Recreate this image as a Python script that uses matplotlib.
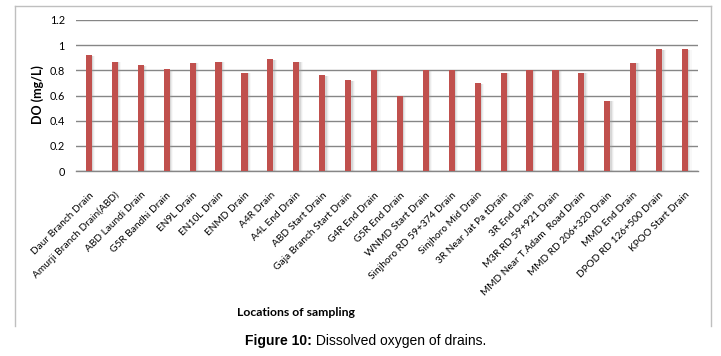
import matplotlib
matplotlib.use("Agg")
import matplotlib.pyplot as plt
import numpy as np
from matplotlib.lines import Line2D

categories = [
    "Daur Branch Drain", "Amurji Branch Drain(ABD)", "ABD Laundi Drain", "G5R Bandhi Drain",
    "EN9L Drain", "EN10L Drain", "ENMD Drain", "A4R Drain", "A4L End Drain", "ABD Start Drain",
    "Gaja Branch Start Drain", "G4R End Drain", "G5R End Drain", "WNMD Start Drain",
    "Sinjhoro RD 59+374 Drain", "Sinjhoro Mid Drain", "3R Near Jat Pa tDrain", "3R End Drain",
    "M3R RD 59+921 Drain", "MMD Near T.Adam  Road Drain", "MMD RD 206+320 Drain", "MMD End Drain",
    "DPOD RD 126+500 Drain", "KPOO Start Drain",
]
do_values = [0.92, 0.87, 0.84, 0.81, 0.86, 0.87, 0.78, 0.89, 0.87, 0.76, 0.72, 0.80,
             0.60, 0.80, 0.80, 0.70, 0.78, 0.80, 0.80, 0.78, 0.56, 0.86, 0.97, 0.97]
y_ticks = [0, 0.2, 0.4, 0.6, 0.8, 1.0, 1.2]
y_tick_labels = ["0", "0.2", "0.4", "0.6", "0.8", "1", "1.2"]

W, H = 721, 356
fig = plt.figure(figsize=(W / 100, H / 100), dpi=100)
fig.patch.set_facecolor("white")

font = "Lato"
ax = fig.add_axes([76 / W, 1 - 171 / H, (698 - 76) / W, (171 - 20) / H])
x = np.arange(len(categories))

# soft shadow to the right of bars
for k, a in enumerate([0.25, 0.14, 0.07]):
    ax.bar(x + 0.05 + 0.04 * k, np.array(do_values) - 0.005, width=0.24, color="#a0a0a0",
           alpha=a, zorder=2, linewidth=0)
ax.bar(x, do_values, width=0.24, color="#C0504D", zorder=3, linewidth=0)

ax.set_xlim(-0.5, len(categories) - 0.5)
ax.set_ylim(0, 1.2)
ax.set_yticks(y_ticks)
ax.set_yticklabels(y_tick_labels, fontsize=7.8, family=font)
ax.yaxis.grid(True, color="#868686", linewidth=1.0, zorder=0)
ax.set_axisbelow(True)
for s in ["top", "right", "left"]:
    ax.spines[s].set_visible(False)
ax.spines["bottom"].set_color("#868686")
ax.spines["bottom"].set_linewidth(1.0)
ax.tick_params(axis="both", length=0)
ax.tick_params(axis="y", pad=8)
ax.set_xticks(x)
ax.set_xticklabels(categories, rotation=45, ha="right", rotation_mode="anchor",
                   fontsize=7.3, family=font)
ax.tick_params(axis="x", pad=14)

fig.text(38 / W, 1 - 95 / H, "DO (mg/L)", rotation=90, ha="center", va="center",
         fontsize=9, fontweight="bold", family=font)
fig.text(296 / W, 1 - 313 / H, "Locations of sampling", ha="center", va="center",
         fontsize=8.8, fontweight="bold", family=font)

# frame (top, left, right)
c = "#BFBFBF"
x0, x1 = 15 / W, 711 / W
y0, y1 = 1 - 326 / H, 1 - 6 / H
fig.add_artist(Line2D([x0, x1], [y1, y1], transform=fig.transFigure, color=c, lw=1))
fig.add_artist(Line2D([x0, x0], [y0, y1], transform=fig.transFigure, color=c, lw=1))
fig.add_artist(Line2D([x1, x1], [y0, y1], transform=fig.transFigure, color=c, lw=1))

split = 312 / W
fig.text(split, 1 - 341 / H, "Figure 10:", ha="right", va="center", fontsize=10,
         fontweight="bold", family="Liberation Sans")
fig.text(split, 1 - 341 / H, " Dissolved oxygen of drains.", ha="left", va="center",
         fontsize=10, family="Liberation Sans")

fig.savefig("out.png", dpi=100, facecolor="white")
